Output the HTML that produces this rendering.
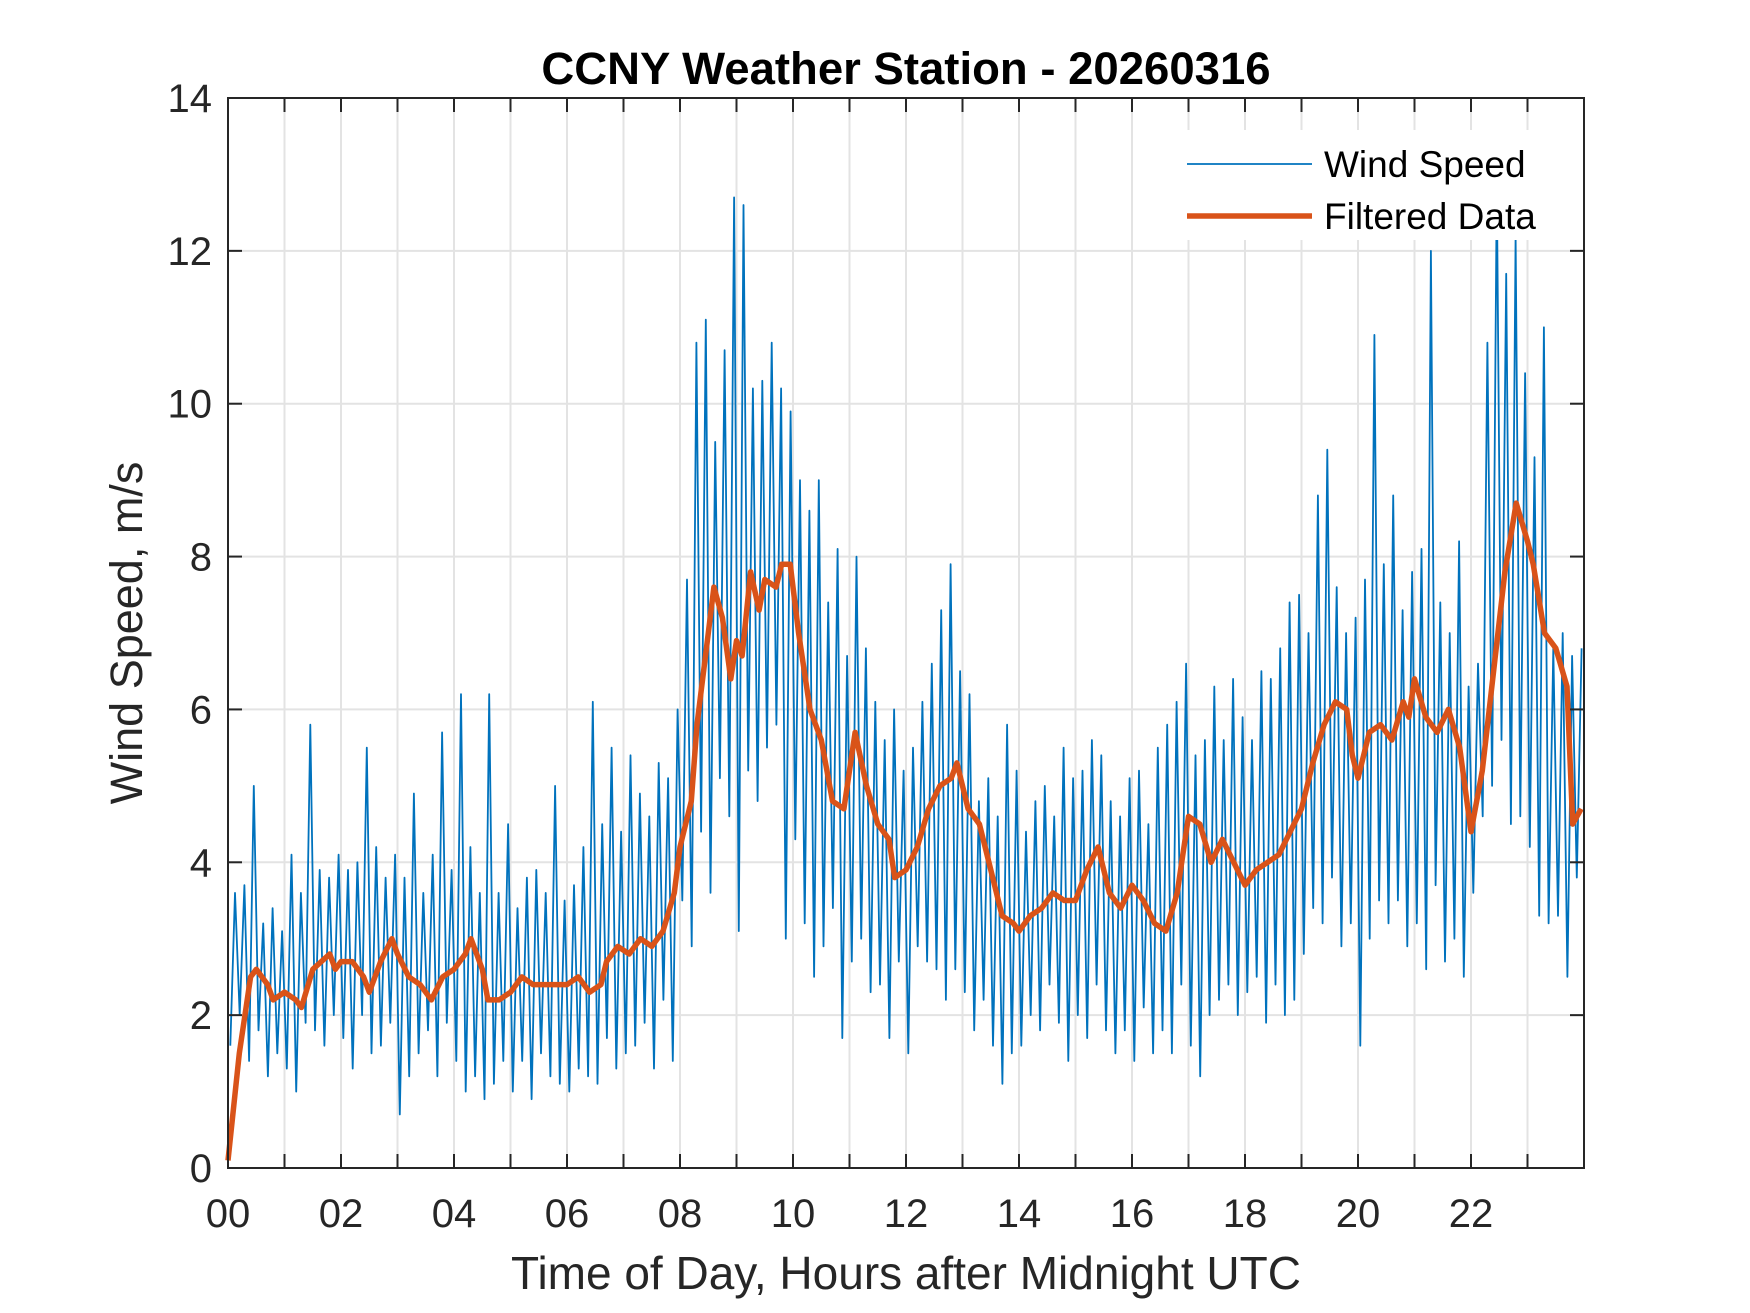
<!DOCTYPE html>
<html><head><meta charset="utf-8"><style>
html,body{margin:0;padding:0;background:#fff;}
svg{display:block;font-family:"Liberation Sans",Arial,sans-serif;}
</style></head><body>
<svg id="chart" width="1750" height="1313" viewBox="0 0 1750 1313" xmlns="http://www.w3.org/2000/svg">
<rect width="1750" height="1313" fill="#fff"/>
<g id="grid"></g>
<g id="series"></g>
<g id="axes"></g>
<text x="906" y="84" text-anchor="middle" font-size="45.5" font-weight="bold" fill="#000">CCNY Weather Station - 20260316</text>
<text x="906" y="1289" text-anchor="middle" font-size="46" fill="#262626">Time of Day, Hours after Midnight UTC</text>
<text transform="translate(142,633) rotate(-90)" text-anchor="middle" font-size="45" fill="#262626">Wind Speed, m/s</text>
<g>
<rect x="1175" y="130" width="380" height="110" fill="#fff"/>
<line x1="1187" y1="164" x2="1312" y2="164" stroke="#0072BD" stroke-width="1.8"/>
<text x="1324" y="177" font-size="37" fill="#000">Wind Speed</text>
<line x1="1187" y1="216" x2="1312" y2="216" stroke="#D95319" stroke-width="5.5"/>
<text x="1324" y="229" font-size="37" fill="#000">Filtered Data</text>
</g>
</svg>
<script>
const rawStepMinutes = 5;
const windSpeed = [
1.6,3.6,2.0,3.7,1.4,5.0,1.8,3.2,1.2,3.4,1.5,3.1,
1.3,4.1,1.0,3.6,1.9,5.8,1.8,3.9,1.6,3.8,2.0,4.1,
1.7,3.9,1.3,4.0,2.0,5.5,1.5,4.2,1.6,3.8,1.9,4.1,
0.7,3.8,1.2,4.9,1.5,3.6,1.8,4.1,1.2,5.7,1.9,3.9,
1.4,6.2,1.0,4.2,1.2,3.6,0.9,6.2,1.1,3.6,1.4,4.5,
1.0,3.4,1.4,3.8,0.9,3.9,1.5,3.6,1.2,5.0,1.1,3.5,
1.0,3.7,1.3,4.2,1.2,6.1,1.1,4.5,1.7,5.5,1.3,4.4,
1.5,5.4,1.6,4.9,1.9,4.6,1.3,5.3,2.2,5.1,1.4,6.0,
3.5,7.7,2.9,10.8,4.4,11.1,3.6,9.5,5.1,10.7,4.6,12.7,
3.1,12.6,5.2,10.2,4.8,10.3,5.5,10.8,5.8,10.2,3.0,9.9,
4.3,9.0,3.2,8.6,2.5,9.0,2.9,7.4,3.4,8.1,1.7,6.7,
2.7,8.0,3.0,6.8,2.3,6.1,2.4,5.6,1.7,6.0,2.7,5.2,
1.5,5.5,2.9,6.1,2.7,6.6,2.6,7.3,2.2,7.9,2.6,6.5,
2.3,6.2,1.8,4.8,2.2,5.1,1.6,4.6,1.1,5.8,1.5,5.2,
1.6,4.4,2.0,4.8,1.8,5.0,2.4,4.6,1.9,5.5,1.4,5.1,
2.0,5.2,1.7,5.6,2.4,5.4,1.8,4.8,1.5,4.6,1.8,5.1,
1.4,5.2,2.1,4.5,1.5,5.5,1.8,5.8,1.5,6.1,2.4,6.6,
1.6,5.4,1.2,5.6,2.0,6.3,2.2,5.6,2.4,6.4,2.0,5.9,
2.3,5.6,2.5,6.5,1.9,6.4,2.4,6.8,2.0,7.4,2.2,7.5,
2.8,7.0,3.4,8.8,3.2,9.4,3.8,7.6,2.9,7.0,3.2,7.2,
1.6,7.7,3.0,10.9,3.5,7.9,3.2,8.8,3.5,7.3,2.9,7.8,
3.2,8.1,2.6,12.0,3.7,7.4,2.7,7.0,3.0,8.2,2.5,6.3,
3.6,6.6,4.6,10.8,5.0,12.9,5.6,11.7,4.5,12.2,4.6,10.4,
4.2,9.3,3.3,11.0,3.2,6.8,3.3,7.0,2.5,6.7,3.8,6.8
];
const filteredHours = [0,0.2,0.4,0.5,0.7,0.8,1.0,1.2,1.3,1.5,1.8,1.9,2.0,2.2,2.4,2.5,2.7,2.9,3.0,3.2,3.4,3.6,3.8,4.0,4.2,4.3,4.5,4.6,4.8,5.0,5.2,5.4,5.6,5.8,6.0,6.2,6.4,6.6,6.7,6.9,7.1,7.3,7.5,7.7,7.9,8.0,8.2,8.3,8.5,8.6,8.75,8.9,9.0,9.1,9.25,9.4,9.5,9.7,9.8,9.95,10.1,10.3,10.5,10.7,10.9,11.1,11.3,11.5,11.7,11.8,12.0,12.2,12.4,12.6,12.8,12.9,13.1,13.3,13.5,13.7,13.9,14.0,14.2,14.4,14.6,14.8,15.0,15.2,15.4,15.6,15.8,16.0,16.2,16.4,16.6,16.8,17.0,17.2,17.4,17.6,17.8,18.0,18.2,18.4,18.6,18.8,19.0,19.2,19.4,19.6,19.8,19.9,20.0,20.2,20.4,20.6,20.8,20.9,21.0,21.2,21.4,21.6,21.8,22.0,22.2,22.4,22.6,22.8,23.0,23.1,23.3,23.5,23.7,23.8,23.95];
const filteredValues = [0.1,1.5,2.5,2.6,2.4,2.2,2.3,2.2,2.1,2.6,2.8,2.6,2.7,2.7,2.5,2.3,2.7,3.0,2.8,2.5,2.4,2.2,2.5,2.6,2.8,3.0,2.6,2.2,2.2,2.3,2.5,2.4,2.4,2.4,2.4,2.5,2.3,2.4,2.7,2.9,2.8,3.0,2.9,3.1,3.6,4.2,4.8,5.8,7.0,7.6,7.2,6.4,6.9,6.7,7.8,7.3,7.7,7.6,7.9,7.9,7.0,6.0,5.6,4.8,4.7,5.7,5.0,4.5,4.3,3.8,3.9,4.2,4.7,5.0,5.1,5.3,4.7,4.5,3.9,3.3,3.2,3.1,3.3,3.4,3.6,3.5,3.5,3.9,4.2,3.6,3.4,3.7,3.5,3.2,3.1,3.6,4.6,4.5,4.0,4.3,4.0,3.7,3.9,4.0,4.1,4.4,4.7,5.3,5.8,6.1,6.0,5.4,5.1,5.7,5.8,5.6,6.1,5.9,6.4,5.9,5.7,6.0,5.5,4.4,5.2,6.5,7.8,8.7,8.2,7.9,7.0,6.8,6.3,4.5,4.7];
const xTickLabels = ["00","02","04","06","08","10","12","14","16","18","20","22"];
const yTickLabels = ["0","2","4","6","8","10","12","14"];

const NS="http://www.w3.org/2000/svg";
const L=228,R=1584,T=98,B=1168,XMAX=24,YMAX=14;
const xs=h=>L+(R-L)*h/XMAX;
const ys=v=>B-(B-T)*v/YMAX;
function mk(tag,attrs,parent){const e=document.createElementNS(NS,tag);for(const k in attrs)e.setAttribute(k,attrs[k]);parent.appendChild(e);return e;}
const grid=document.getElementById('grid'),axes=document.getElementById('axes'),series=document.getElementById('series');
for(let h=1;h<XMAX;h++){
  const g=mk('line',{x1:xs(h),x2:xs(h),y1:T,y2:B,stroke:'#e3e3e3','stroke-width':2},grid);
  
  
}
for(let i=1;i<yTickLabels.length-1;i++){
  const v=+yTickLabels[i];
  const g=mk('line',{x1:L,x2:R,y1:ys(v),y2:ys(v),stroke:'#e3e3e3','stroke-width':2},grid);
  
  
}
let d='';
windSpeed.forEach((v,i)=>{const h=i*rawStepMinutes/60+0.04;d+=(i?'L':'M')+xs(h).toFixed(1)+' '+ys(v).toFixed(1);});
const raw=mk('path',{d:d,fill:'none',stroke:'#0072BD','stroke-width':1.8,'stroke-linejoin':'round'},series);


let d2='';
filteredValues.forEach((v,i)=>{d2+=(i?'L':'M')+xs(filteredHours[i]).toFixed(1)+' '+ys(v).toFixed(1);});
const filt=mk('path',{d:d2,fill:'none',stroke:'#D95319','stroke-width':5.5,'stroke-linejoin':'round'},series);


const box=mk('rect',{x:L,y:T,width:R-L,height:B-T,fill:'none',stroke:'#262626','stroke-width':2},axes);


for(let h=1;h<XMAX;h++){
  const t1=mk('line',{x1:xs(h),x2:xs(h),y1:B,y2:B-14,stroke:'#262626','stroke-width':2},axes);
  
  
  const t2=mk('line',{x1:xs(h),x2:xs(h),y1:T,y2:T+14,stroke:'#262626','stroke-width':2},axes);
  
  
}
xTickLabels.forEach(s=>{
  const t=mk('text',{x:xs(+s),y:1227,'text-anchor':'middle','font-size':40,fill:'#262626'},axes);
  t.textContent=s;
  
  
});
yTickLabels.forEach(s=>{
  const v=+s;
  if(v>0&&v<YMAX){
    const a=mk('line',{x1:L,x2:L+14,y1:ys(v),y2:ys(v),stroke:'#262626','stroke-width':2},axes);
    
    
    const b=mk('line',{x1:R,x2:R-14,y1:ys(v),y2:ys(v),stroke:'#262626','stroke-width':2},axes);
    
    
  }
  const t=mk('text',{x:212,y:ys(v)+14,'text-anchor':'end','font-size':40,fill:'#262626'},axes);
  t.textContent=s;
  
  
});
</script>
</body></html>
